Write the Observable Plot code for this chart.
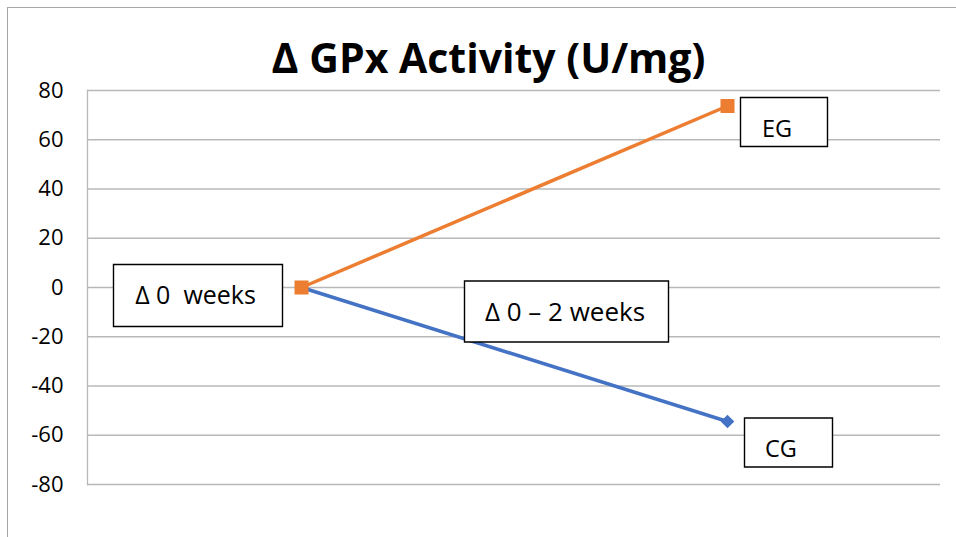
<!DOCTYPE html>
<html>
<head>
<meta charset="utf-8">
<script src="https://cdn.jsdelivr.net/npm/d3@7"></script>
<script src="https://cdn.jsdelivr.net/npm/@observablehq/plot@0.6"></script>
<style>
  html, body { margin: 0; padding: 0; background: #fff; }
  #wrap { position: relative; width: 956px; height: 537px; overflow: hidden; }
  #border { position: absolute; left: 7px; top: 7px; right: -5px; bottom: -5px;
            border-left: 1.5px solid #a6a6a6; border-top: 1.5px solid #a6a6a6; pointer-events: none; }
  svg { display: block; }
</style>
</head>
<body>
<div id="wrap"><div id="border"></div></div>
<script>
// ---- data ----
const title = "Δ GPx Activity (U/mg)";
const categories = ["Δ 0 weeks", "Δ 0 – 2 weeks"];
const egValues = [0, 73.7];
const cgValues = [0, -54.4];
const yTicks = [-80, -60, -40, -20, 0, 20, 40, 60, 80];
const labelTexts = ["Δ 0  weeks", "Δ 0 – 2 weeks", "EG", "CG"];
// anchor of each label: category index and value it is attached to
const labelCat = [0, 1, 1, 1];
const labelVal = [0, 0, 73.7, -54.4];

const eg = categories.map((c, i) => ({cat: c, value: egValues[i]}));
const cg = categories.map((c, i) => ({cat: c, value: cgValues[i]}));
const labels = labelTexts.map((t, i) => ({text: t, cat: categories[labelCat[i]], value: labelVal[i]}));

// ---- styles ----
const ORANGE = "#ED7D31", BLUE = "#4472C4", GRID = "#b8b8b8";
const FONT = "'Open Sans', 'Noto Sans', sans-serif";

const squareSym = {draw(ctx, size) { const r = Math.sqrt(size / Math.PI); ctx.rect(-r, -r, 2 * r, 2 * r); }};
const diamondSym = {draw(ctx, size) { const r = Math.sqrt(size / Math.PI);
  ctx.moveTo(0, -r); ctx.lineTo(r, 0); ctx.lineTo(0, r); ctx.lineTo(-r, 0); ctx.closePath(); }};
const boxSym = (w, h) => ({draw(ctx) { ctx.rect(-w / 2, -h / 2, w, h); }});

// per-label box/text placement (offsets from anchor, box size, font size)
const labelStyle = [
  {bdx: -103.5, bdy: 8,    w: 169, h: 62, tdx: -106,  tdy: 8.5, fs: 25},
  {bdx: -161,   bdy: 24,   w: 204, h: 61, tdx: -162.5, tdy: 25, fs: 26},
  {bdx: 56.5,   bdy: 16,   w: 87,  h: 49, tdx: 49.5,  tdy: 23.5, fs: 23.5},
  {bdx: 61,     bdy: 21,   w: 88,  h: 49, tdx: 53.5,  tdy: 28, fs: 23.5}
];

const labelMarks = labels.flatMap((d, i) => {
  const s = labelStyle[i];
  return [
    Plot.dot([d], {x: "cat", y: "value", symbol: boxSym(s.w, s.h), r: 5, fill: "white",
                   stroke: "black", strokeWidth: 1.4, dx: s.bdx, dy: s.bdy}),
    Plot.text([d], {x: "cat", y: "value", text: "text", dx: s.tdx, dy: s.tdy,
                    fontSize: s.fs, fill: "black", fontFamily: FONT, textAnchor: "middle"})
  ];
});

const chart = Plot.plot({
  width: 956,
  height: 537,
  marginLeft: 87,
  marginRight: 16,
  marginTop: 90,
  marginBottom: 53,
  style: {fontFamily: FONT, background: "transparent", overflow: "visible"},
  x: {type: "point", domain: categories, padding: 0.5, axis: null},
  y: {domain: [-80, 80], axis: null},
  marks: [
    Plot.gridY(yTicks, {stroke: GRID, strokeOpacity: 1, strokeWidth: 1.3}),
    Plot.frame({anchor: "left", stroke: GRID, strokeWidth: 1.3}),
    Plot.axisY(yTicks, {tickSize: 0, tickPadding: 24, fontSize: 22, fill: "black", fontFamily: FONT,
                        label: null, tickFormat: d => String(d)}),
    Plot.text([title], {frameAnchor: "top", lineAnchor: "middle", dx: -25.5, dy: -31, fontSize: 41,
                        fontWeight: "bold", fill: "black", fontFamily: FONT}),
    Plot.line(cg, {x: "cat", y: "value", stroke: BLUE, strokeWidth: 3.5}),
    Plot.line(eg, {x: "cat", y: "value", stroke: ORANGE, strokeWidth: 3.5}),
    Plot.dot(cg, {x: "cat", y: "value", symbol: diamondSym, r: 6.8, fill: BLUE}),
    Plot.dot(eg, {x: "cat", y: "value", symbol: squareSym, r: 7, fill: ORANGE}),
    ...labelMarks
  ]
});

document.getElementById("wrap").prepend(chart);
</script>
</body>
</html>
